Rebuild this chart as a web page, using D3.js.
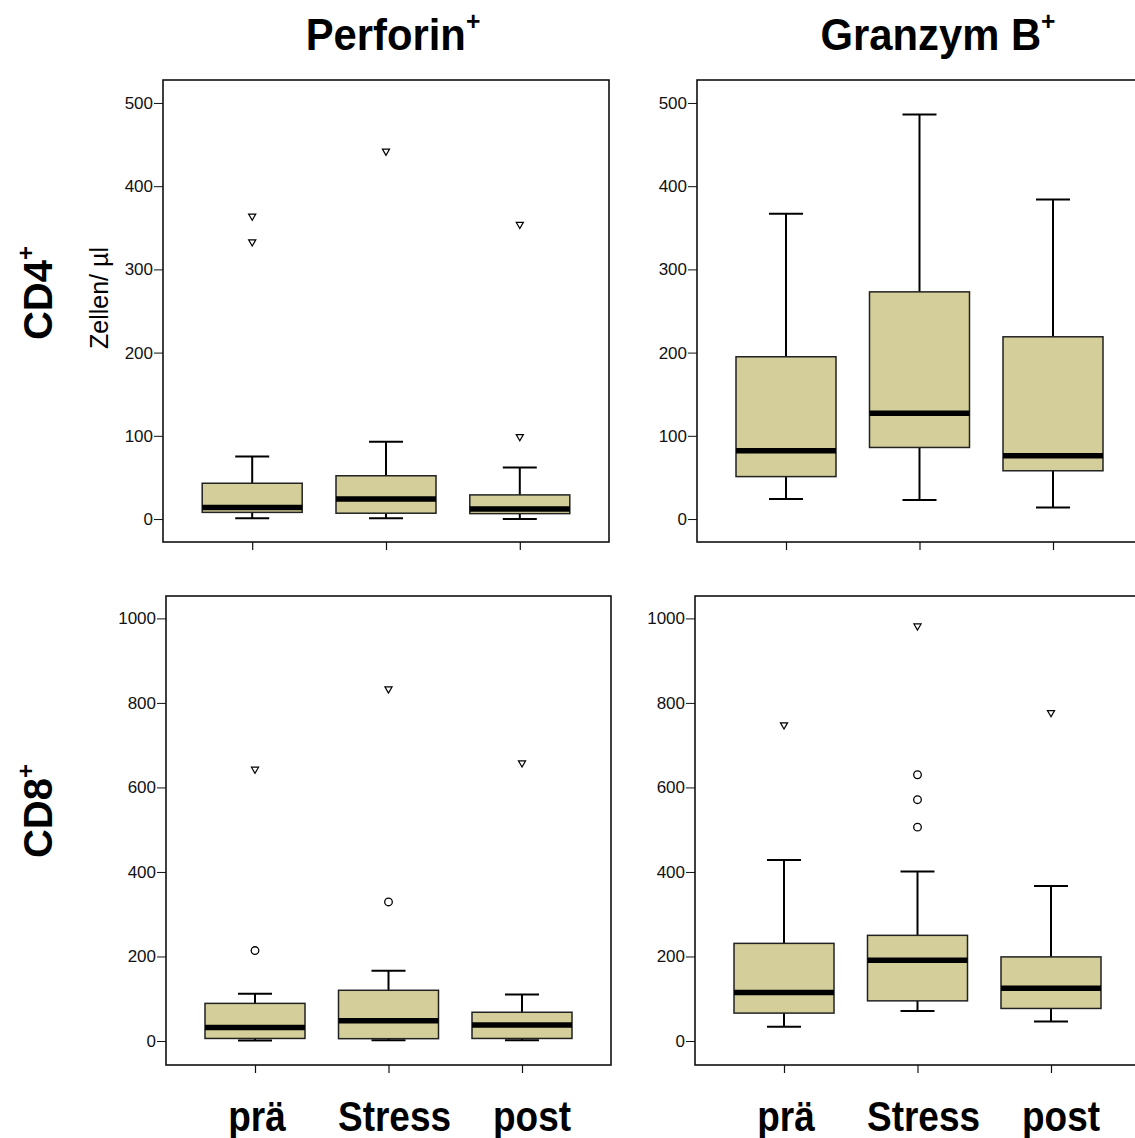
<!DOCTYPE html>
<html>
<head>
<meta charset="utf-8">
<script src="https://cdn.jsdelivr.net/npm/d3@7"></script>
<style>
  body { margin: 0; background: #fff; }
  svg { display: block; font-family: "Liberation Sans", Arial, sans-serif; }
</style>
</head>
<body>
<div class="chart"></div>
<script>
const width = 1135, height = 1138;

// groups on the x axis
const groups = ["prä", "Stress", "post"];

// five-number summaries per group: [whiskerLow, q1, median, q3, whiskerHigh]
const perforinCD4 = [[1, 8, 14, 43, 75], [1, 7, 24, 52, 93], [0, 6.5, 12, 29, 62]];
const granzymCD4  = [[24, 51, 82, 195, 367], [23, 86, 127, 273, 486], [14, 58, 76, 219, 384]];
const perforinCD8 = [[1, 6, 32, 89, 112], [2, 5.5, 48, 120, 166], [2, 6, 38, 68, 110]];
const granzymCD8  = [[34, 66, 115, 231, 428], [71, 95, 191, 250, 401], [46, 77, 125, 199, 367]];

// outliers (circles) and extreme values (triangles) per group
const perforinCD4Circles = [[], [], []];
const perforinCD4Extremes = [[364, 333], [442], [354, 99]];
const granzymCD4Circles = [[], [], []];
const granzymCD4Extremes = [[], [], []];
const perforinCD8Circles = [[214], [329], []];
const perforinCD8Extremes = [[643], [833], [658]];
const granzymCD8Circles = [[], [630, 571, 506], []];
const granzymCD8Extremes = [[748], [982], [777]];

const ticksCD4 = [0, 100, 200, 300, 400, 500];
const ticksCD8 = [0, 200, 400, 600, 800, 1000];

const svg = d3.select(".chart")
    .append("svg")
    .attr("width", width)
    .attr("height", height);

const fill = "#d4cf9a";

function panel(cfg) {
    const g = svg.append("g");
    const x = d3.scalePoint()
        .domain(groups)
        .range([cfg.x0, cfg.x1])
        .padding(2 / 3);
    const y = d3.scaleLinear()
        .domain(cfg.domain)
        .range([cfg.y1, cfg.y0]);

    const boxW = 100, capW = 34;

    // frame
    g.append("rect")
        .attr("x", cfg.x0).attr("y", cfg.y0)
        .attr("width", cfg.x1 - cfg.x0).attr("height", cfg.y1 - cfg.y0)
        .attr("fill", "none").attr("stroke", "#111").attr("stroke-width", 1.6);

    // y axis
    const yAxis = d3.axisLeft(y).tickValues(cfg.ticks).tickFormat(d3.format("d"))
        .tickSize(9).tickPadding(1);
    const ya = g.append("g").attr("transform", `translate(${cfg.x0},0)`).call(yAxis);
    ya.select(".domain").remove();
    ya.selectAll("line").attr("stroke", "#111").attr("stroke-width", 1);
    ya.selectAll("text").attr("font-size", 17).attr("fill", "#111")
        .attr("font-family", "Liberation Sans, Arial, sans-serif");

    // x axis ticks only
    const xAxis = d3.axisBottom(x).tickSize(8).tickFormat("");
    const xa = g.append("g").attr("transform", `translate(0,${cfg.y1})`).call(xAxis);
    xa.select(".domain").remove();
    xa.selectAll("line").attr("stroke", "#111").attr("stroke-width", 1.2);

    const rows = groups.map((k, i) => ({key: k, s: cfg.stats[i], c: cfg.circles[i], e: cfg.extremes[i]}));
    const box = g.selectAll(".box").data(rows).join("g").attr("class", "box");

    // whiskers
    box.append("line")
        .attr("x1", d => x(d.key)).attr("x2", d => x(d.key))
        .attr("y1", d => y(d.s[3])).attr("y2", d => y(d.s[4]))
        .attr("stroke", "#000").attr("stroke-width", 2);
    box.append("line")
        .attr("x1", d => x(d.key)).attr("x2", d => x(d.key))
        .attr("y1", d => y(d.s[0])).attr("y2", d => y(d.s[1]))
        .attr("stroke", "#000").attr("stroke-width", 2);
    box.append("line")
        .attr("x1", d => x(d.key) - capW / 2).attr("x2", d => x(d.key) + capW / 2)
        .attr("y1", d => y(d.s[4])).attr("y2", d => y(d.s[4]))
        .attr("stroke", "#000").attr("stroke-width", 2);
    box.append("line")
        .attr("x1", d => x(d.key) - capW / 2).attr("x2", d => x(d.key) + capW / 2)
        .attr("y1", d => y(d.s[0])).attr("y2", d => y(d.s[0]))
        .attr("stroke", "#000").attr("stroke-width", 2);

    // box
    box.append("rect")
        .attr("x", d => x(d.key) - boxW / 2)
        .attr("width", boxW)
        .attr("y", d => y(d.s[3]))
        .attr("height", d => y(d.s[1]) - y(d.s[3]))
        .attr("fill", fill).attr("stroke", "#222").attr("stroke-width", 1.5);

    // median
    box.append("line")
        .attr("x1", d => x(d.key) - boxW / 2).attr("x2", d => x(d.key) + boxW / 2)
        .attr("y1", d => y(d.s[2])).attr("y2", d => y(d.s[2]))
        .attr("stroke", "#000").attr("stroke-width", 5.5);

    // outliers
    box.selectAll(".circ").data(d => d.c.map(v => ({key: d.key, v}))).join("circle")
        .attr("class", "circ")
        .attr("cx", d => x(d.key)).attr("cy", d => y(d.v)).attr("r", 3.8)
        .attr("fill", "#fff").attr("stroke", "#000").attr("stroke-width", 1.3);

    // extremes as small downward triangles
    const tri = d3.symbol().type(d3.symbolTriangle).size(22);
    box.selectAll(".tri").data(d => d.e.map(v => ({key: d.key, v}))).join("path")
        .attr("class", "tri")
        .attr("d", tri)
        .attr("transform", d => `translate(${x(d.key)},${y(d.v)}) rotate(180)`)
        .attr("fill", "#fff").attr("stroke", "#000").attr("stroke-width", 1.2);

    // category labels
    if (cfg.labels) {
        g.selectAll(".cat").data(groups).join("text")
            .attr("class", "cat")
            .attr("transform", (d, i) => `translate(${x(d) + 2 + i * 4},1131) scale(0.88,1)`)
            .attr("text-anchor", "middle")
            .attr("font-size", 42).attr("font-weight", "bold")
            .text(d => d);
    }
}

panel({x0: 163, x1: 609, y0: 80, y1: 542, domain: [-27.6, 527.6], ticks: ticksCD4,
    stats: perforinCD4, circles: perforinCD4Circles, extremes: perforinCD4Extremes});
panel({x0: 697, x1: 1142, y0: 80, y1: 542, domain: [-27.6, 527.6], ticks: ticksCD4,
    stats: granzymCD4, circles: granzymCD4Circles, extremes: granzymCD4Extremes});
panel({x0: 166, x1: 611, y0: 596, y1: 1065, domain: [-56.8, 1053], ticks: ticksCD8,
    stats: perforinCD8, circles: perforinCD8Circles, extremes: perforinCD8Extremes, labels: true});
panel({x0: 695, x1: 1140, y0: 596, y1: 1065, domain: [-56.8, 1053], ticks: ticksCD8,
    stats: granzymCD8, circles: granzymCD8Circles, extremes: granzymCD8Extremes, labels: true});

// column titles
function title(x, y, main, sup) {
    const t = svg.append("text")
        .attr("transform", `translate(${x},${y}) scale(0.95,1)`)
        .attr("text-anchor", "middle")
        .attr("font-size", 44).attr("font-weight", "bold");
    t.append("tspan").text(main);
    t.append("tspan").attr("font-size", 26).attr("dy", -20).text(sup);
}
title(393, 50, "Perforin", "+");
title(938, 50, "Granzym B", "+");

// row titles
function rowTitle(cx, cy, main, sup) {
    const t = svg.append("text")
        .attr("transform", `translate(${cx},${cy}) rotate(-90)`)
        .attr("text-anchor", "middle")
        .attr("font-size", 40).attr("font-weight", "bold");
    t.append("tspan").text(main);
    t.append("tspan").attr("font-size", 24).attr("dy", -18).text(sup);
}
rowTitle(52, 293, "CD4", "+");
rowTitle(52, 811, "CD8", "+");

svg.append("text")
    .attr("transform", "translate(108,298) rotate(-90)")
    .attr("text-anchor", "middle")
    .attr("font-size", 25)
    .text("Zellen/ µl");
</script>
</body>
</html>
